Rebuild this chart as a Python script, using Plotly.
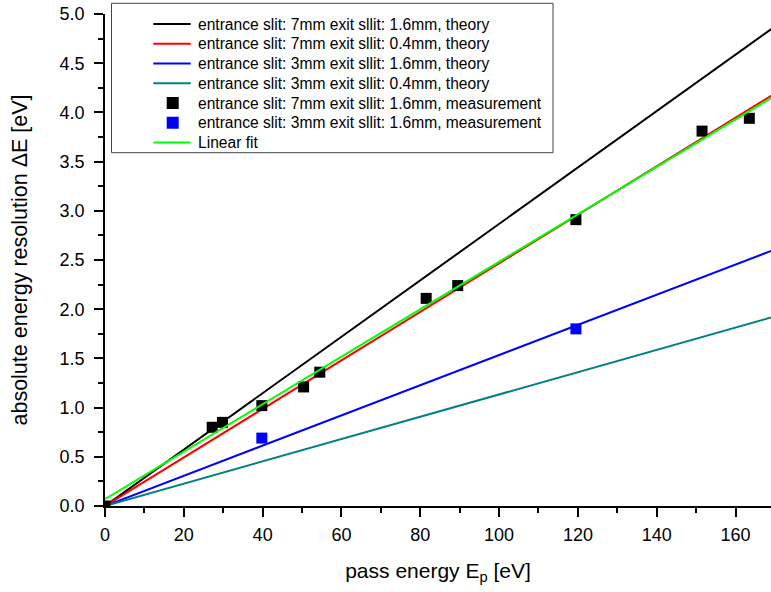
import plotly.graph_objects as go

# ---------------- data ----------------
theory_x = [0, 170]
theory_7_16 = [0, 4.873]   # entrance 7mm, exit 1.6mm
theory_7_04 = [0, 4.193]   # entrance 7mm, exit 0.4mm
theory_3_16 = [0, 2.607]   # entrance 3mm, exit 1.6mm
theory_3_04 = [0, 1.927]   # entrance 3mm, exit 0.4mm

meas7_x = [0, 27.2, 29.8, 39.8, 50.4, 54.5, 81.5, 89.5, 119.5, 151.5, 163.5]
meas7_y = [0, 0.80, 0.85, 1.02, 1.21, 1.36, 2.11, 2.24, 2.91, 3.81, 3.94]
meas3_x = [39.8, 119.5]
meas3_y = [0.69, 1.80]

fit_x = [0, 170]
fit_y = [0.07, 4.17]

names = [
    "entrance slit: 7mm exit sllit: 1.6mm, theory",
    "entrance slit: 7mm exit sllit: 0.4mm, theory",
    "entrance slit: 3mm exit sllit: 1.6mm, theory",
    "entrance slit: 3mm exit sllit: 0.4mm, theory",
    "entrance slit: 7mm exit sllit: 1.6mm, measurement",
    "entrance slit: 3mm exit sllit: 1.6mm, measurement",
    "Linear fit",
]
colors = ["#000000", "#FF0000", "#0000FF", "#008080", "#000000", "#0000FF", "#00FF00"]
kinds = ["line", "line", "line", "line", "marker", "marker", "line"]

x_ticks = [0, 20, 40, 60, 80, 100, 120, 140, 160]
y_ticks = [0.0, 0.5, 1.0, 1.5, 2.0, 2.5, 3.0, 3.5, 4.0, 4.5, 5.0]

FONT = "Liberation Sans, Arial, sans-serif"

fig = go.Figure()
for ys, c, n in zip([theory_7_16, theory_7_04, theory_3_16, theory_3_04], colors[:4], names[:4]):
    fig.add_trace(go.Scatter(x=theory_x, y=ys, mode="lines", name=n,
                             line=dict(color=c, width=2), showlegend=False))
fig.add_trace(go.Scatter(x=meas7_x, y=meas7_y, mode="markers", name=names[4],
                         marker=dict(symbol="square", size=11, color="#000000"), showlegend=False))
fig.add_trace(go.Scatter(x=meas3_x, y=meas3_y, mode="markers", name=names[5],
                         marker=dict(symbol="square", size=11, color="#0000FF"), showlegend=False))
fig.add_trace(go.Scatter(x=fit_x, y=fit_y, mode="lines", name=names[6],
                         line=dict(color="#00FF00", width=2), showlegend=False))

# ---------------- layout ----------------
W, H = 771, 592
L, R, T, B = 105, 0, 14, 86
PW, PH = W - L - R, H - T - B

def px(x):
    return (x - L) / PW

def py(y):
    return (H - B - y) / PH

shapes = []
annotations = []
# legend box
shapes.append(dict(type="rect", xref="paper", yref="paper",
                   x0=px(111.5), x1=px(553), y0=py(152.7), y1=py(3.3),
                   line=dict(color="#444444", width=1), fillcolor="white", layer="above"))
for i, (n, c, k) in enumerate(zip(names, colors, kinds)):
    yc = 24 + i * 19.75
    if k == "line":
        shapes.append(dict(type="line", xref="paper", yref="paper",
                           x0=px(153.3), x1=px(190.7), y0=py(yc), y1=py(yc),
                           line=dict(color=c, width=2), layer="above"))
    else:
        shapes.append(dict(type="rect", xref="paper", yref="paper",
                           x0=px(166.7), x1=px(178.7), y0=py(yc + 6), y1=py(yc - 6),
                           line=dict(width=0), fillcolor=c, layer="above"))
    annotations.append(dict(xref="paper", yref="paper", x=px(195.5), y=py(yc),
                            xanchor="left", yanchor="middle", showarrow=False,
                            text=n, font=dict(family=FONT, size=15.6, color="black")))

fig.update_layout(
    width=W, height=H,
    margin=dict(l=L, r=R, t=T, b=B, pad=0),
    paper_bgcolor="white", plot_bgcolor="white",
    font=dict(family=FONT, color="black"),
    showlegend=False,
    shapes=shapes, annotations=annotations,
    xaxis=dict(range=[0, 169], tickvals=x_ticks, ticktext=[str(v) for v in x_ticks],
               showline=True, linecolor="black", linewidth=1.5,
               ticks="outside", ticklen=9, tickwidth=1.5, tickcolor="black",
               minor=dict(dtick=10, ticks="outside", ticklen=5, tickwidth=1.5, tickcolor="black"),
               showgrid=False, zeroline=False, ticklabelstandoff=3,
               tickfont=dict(family=FONT, size=18),
               title=dict(text="pass energy E<sub>p</sub> [eV]", font=dict(family=FONT, size=21), standoff=19)),
    yaxis=dict(range=[0, 5], tickvals=y_ticks, ticktext=[f"{v:.1f}" for v in y_ticks],
               showline=True, linecolor="black", linewidth=1.5,
               ticks="outside", ticklen=9, tickwidth=1.5, tickcolor="black",
               minor=dict(dtick=0.25, ticks="outside", ticklen=5, tickwidth=1.5, tickcolor="black"),
               showgrid=False, zeroline=False, ticklabelstandoff=6,
               tickfont=dict(family=FONT, size=18),
               title=dict(text="absolute energy resolution \u0394E [eV]", font=dict(family=FONT, size=21.5), standoff=26)),
)

fig.write_html("out.html")
